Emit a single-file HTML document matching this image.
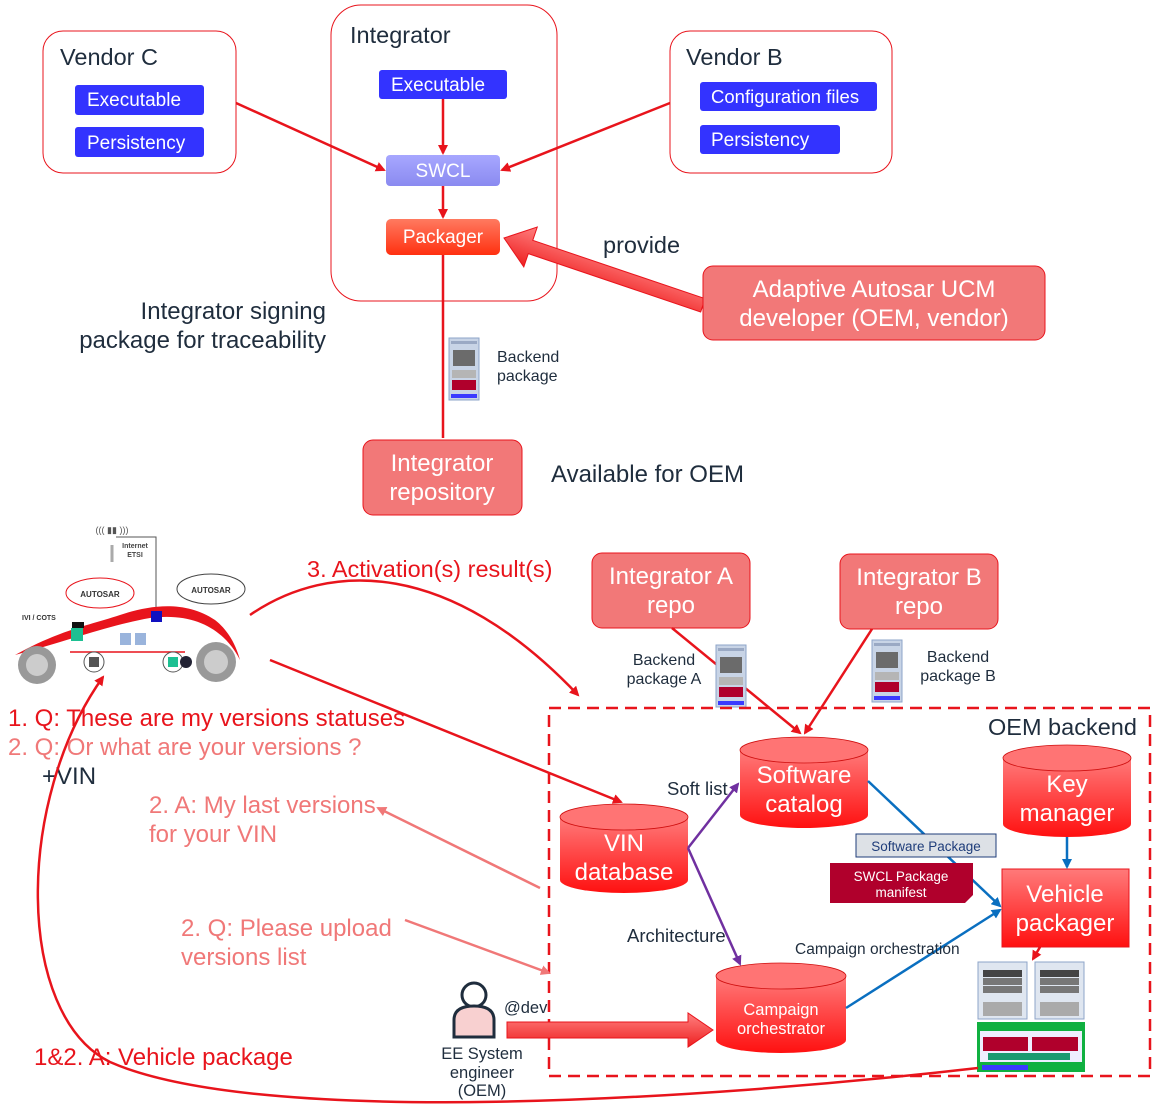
<!DOCTYPE html>
<html><head><meta charset="utf-8"><style>
html,body{margin:0;padding:0;background:#fff}
svg{display:block;font-family:"Liberation Sans",Arial,sans-serif}
</style></head><body>
<svg width="1159" height="1118" viewBox="0 0 1159 1118" xmlns="http://www.w3.org/2000/svg">
<defs>
<marker id="ar" markerWidth="10" markerHeight="10" refX="8" refY="5" orient="auto" markerUnits="userSpaceOnUse"><path d="M0,0 L10,5 L0,10 z" fill="#e8141c"/></marker>
<marker id="ap" markerWidth="10" markerHeight="10" refX="8" refY="5" orient="auto" markerUnits="userSpaceOnUse"><path d="M0,0 L10,5 L0,10 z" fill="#f07878"/></marker>
<marker id="au" markerWidth="10" markerHeight="10" refX="8" refY="5" orient="auto" markerUnits="userSpaceOnUse"><path d="M0,0 L10,5 L0,10 z" fill="#7030a0"/></marker>
<marker id="ab" markerWidth="10" markerHeight="10" refX="8" refY="5" orient="auto" markerUnits="userSpaceOnUse"><path d="M0,0 L10,5 L0,10 z" fill="#0a6fc0"/></marker>
<linearGradient id="gr" x1="0" y1="0" x2="0" y2="1"><stop offset="0" stop-color="#ff7a7a"/><stop offset="1" stop-color="#ff1010"/></linearGradient>
<linearGradient id="go" x1="0" y1="0" x2="0" y2="1"><stop offset="0" stop-color="#ff7a60"/><stop offset="1" stop-color="#ff3010"/></linearGradient>
<linearGradient id="gs" x1="0" y1="0" x2="0" y2="1"><stop offset="0" stop-color="#a7a7ff"/><stop offset="1" stop-color="#8a8af0"/></linearGradient>
<linearGradient id="gf" x1="0" y1="0" x2="0" y2="1"><stop offset="0" stop-color="#ff8080"/><stop offset="1" stop-color="#ee2020"/></linearGradient>
<g id="pkg">
<rect x="0" y="0" width="30" height="62" fill="#c8d4e6" stroke="#8ea4c8"/>
<rect x="2" y="3" width="26" height="3" fill="#9aa9c4"/>
<rect x="4" y="12" width="22" height="16" fill="#6b6b6b"/>
<rect x="3" y="32" width="24" height="8" fill="#b5b5b5"/>
<rect x="3" y="42" width="24" height="10" fill="#b0002c"/>
<rect x="2" y="56" width="26" height="4" fill="#3a3aff"/>
</g>
</defs>

<!-- Vendor C -->
<rect x="43" y="31" width="193" height="142" rx="20" fill="#fff" stroke="#e8141c"/>
<text x="60" y="65" font-size="23.5" fill="#1f2d3d">Vendor C</text>
<rect x="75" y="85" width="129" height="30" rx="3" fill="#3333ff"/>
<text x="87" y="106" font-size="19" fill="#fff">Executable</text>
<rect x="75" y="127" width="129" height="30" rx="3" fill="#3333ff"/>
<text x="87" y="149" font-size="19" fill="#fff">Persistency</text>

<!-- Integrator -->
<rect x="331" y="5" width="226" height="296" rx="30" fill="#fff" stroke="#e8141c"/>
<text x="350" y="43" font-size="23.5" fill="#1f2d3d">Integrator</text>
<rect x="379" y="70" width="128" height="29" rx="3" fill="#3333ff"/>
<text x="391" y="91" font-size="19" fill="#fff">Executable</text>
<rect x="386" y="155" width="114" height="31" rx="4" fill="url(#gs)"/>
<text x="443" y="177" font-size="19" fill="#fff" text-anchor="middle">SWCL</text>
<rect x="386" y="219" width="114" height="36" rx="5" fill="url(#go)"/>
<text x="443" y="243" font-size="19" fill="#fff" text-anchor="middle">Packager</text>
<line x1="443" y1="99" x2="443" y2="153" stroke="#e8141c" stroke-width="2.5" marker-end="url(#ar)"/>
<line x1="443" y1="186" x2="443" y2="217" stroke="#e8141c" stroke-width="2.5" marker-end="url(#ar)"/>
<line x1="443" y1="255" x2="443" y2="438" stroke="#e8141c" stroke-width="2.5"/>

<!-- Vendor B -->
<rect x="670" y="31" width="222" height="142" rx="20" fill="#fff" stroke="#e8141c"/>
<text x="686" y="65" font-size="23.5" fill="#1f2d3d">Vendor B</text>
<rect x="700" y="82" width="177" height="29" rx="3" fill="#3333ff"/>
<text x="711" y="103" font-size="18.5" fill="#fff">Configuration files</text>
<rect x="700" y="125" width="140" height="29" rx="3" fill="#3333ff"/>
<text x="711" y="146" font-size="19" fill="#fff">Persistency</text>

<line x1="236" y1="103" x2="384" y2="170" stroke="#e8141c" stroke-width="2.5" marker-end="url(#ar)"/>
<line x1="670" y1="103" x2="502" y2="170" stroke="#e8141c" stroke-width="2.5" marker-end="url(#ar)"/>

<!-- provide fat arrow -->
<g transform="translate(504,238) rotate(18.7)">
<polygon points="0,0 28,-21 28,-7 210,-7 210,7 28,7 28,21" fill="url(#gf)" stroke="#e8141c" stroke-width="1"/>
</g>
<text x="603" y="253" font-size="23.5" fill="#1f2d3d">provide</text>
<rect x="703" y="266" width="342" height="74" rx="10" fill="#f27878" stroke="#e8141c"/>
<text x="874" y="297" font-size="24" fill="#fff" text-anchor="middle">Adaptive Autosar UCM</text>
<text x="874" y="326" font-size="24" fill="#fff" text-anchor="middle">developer (OEM, vendor)</text>

<text x="326" y="319" font-size="24" fill="#1f2d3d" text-anchor="end">Integrator signing</text>
<text x="326" y="348" font-size="24" fill="#1f2d3d" text-anchor="end">package for traceability</text>

<use href="#pkg" x="449" y="338"/>
<text x="497" y="362" font-size="16" fill="#1f2d3d">Backend</text>
<text x="497" y="381" font-size="16" fill="#1f2d3d">package</text>

<rect x="363" y="440" width="159" height="75" rx="10" fill="#f27878" stroke="#e8141c"/>
<text x="442" y="471" font-size="24" fill="#fff" text-anchor="middle">Integrator</text>
<text x="442" y="500" font-size="24" fill="#fff" text-anchor="middle">repository</text>
<text x="551" y="482" font-size="24" fill="#1f2d3d">Available for OEM</text>

<!-- Car -->
<g>
<line x1="112" y1="545" x2="112" y2="562" stroke="#aaa" stroke-width="3"/>
<text x="112" y="533" font-size="9" fill="#555" text-anchor="middle">((( ▮▮ )))</text>
<polyline points="116,537 156,537 156,610" fill="none" stroke="#555" stroke-width="1"/>
<text x="135" y="548" font-size="7" font-weight="bold" fill="#444" text-anchor="middle">Internet</text>
<text x="135" y="557" font-size="7" font-weight="bold" fill="#444" text-anchor="middle">ETSI</text>
<ellipse cx="100" cy="593" rx="34" ry="15" fill="#fff" stroke="#e8141c"/>
<text x="100" y="597" font-size="8" font-weight="bold" fill="#333" text-anchor="middle">AUTOSAR</text>
<ellipse cx="211" cy="589" rx="34" ry="15" fill="#fff" stroke="#444"/>
<text x="211" y="593" font-size="8" font-weight="bold" fill="#333" text-anchor="middle">AUTOSAR</text>
<path d="M15,655 C60,630 90,625 120,615 C150,605 185,600 215,620 C228,630 236,645 240,660 C225,630 195,612 150,618 C110,625 70,640 15,655 z" fill="#e8141c"/>
<line x1="70" y1="652" x2="185" y2="652" stroke="#e8141c" stroke-width="1.5"/>
<text x="22" y="620" font-size="7" font-weight="bold" fill="#333">IVI / COTS</text>
<rect x="72" y="622" width="12" height="6" fill="#111"/>
<rect x="71" y="628" width="12" height="13" fill="#1dc092"/>
<rect x="151" y="611" width="11" height="11" fill="#1010c0"/>
<rect x="120" y="633" width="11" height="12" fill="#9ab4dc"/>
<rect x="135" y="633" width="11" height="12" fill="#9ab4dc"/>
<circle cx="94" cy="662" r="10" fill="#fff" stroke="#555"/><rect x="89" y="657" width="10" height="10" fill="#555"/>
<circle cx="173" cy="662" r="10" fill="#fff" stroke="#555"/><rect x="168" y="657" width="10" height="10" fill="#1dc092"/>
<circle cx="186" cy="662" r="6" fill="#223"/>
<circle cx="37" cy="665" r="19" fill="#999"/><circle cx="37" cy="665" r="11" fill="#ccc"/>
<circle cx="216" cy="662" r="20" fill="#999"/><circle cx="216" cy="662" r="12" fill="#ccc"/>
</g>

<text x="307" y="577" font-size="23.5" fill="#e8141c">3. Activation(s) result(s)</text>
<path d="M250,615 C330,560 450,560 578,695" fill="none" stroke="#e8141c" stroke-width="2.5" marker-end="url(#ar)"/>

<!-- integrator repos -->
<rect x="592" y="553" width="158" height="75" rx="10" fill="#f27878" stroke="#e8141c"/>
<text x="671" y="584" font-size="24" fill="#fff" text-anchor="middle">Integrator A</text>
<text x="671" y="613" font-size="24" fill="#fff" text-anchor="middle">repo</text>
<rect x="840" y="554" width="158" height="75" rx="10" fill="#f27878" stroke="#e8141c"/>
<text x="919" y="585" font-size="24" fill="#fff" text-anchor="middle">Integrator B</text>
<text x="919" y="614" font-size="24" fill="#fff" text-anchor="middle">repo</text>
<line x1="672" y1="628" x2="800" y2="733" stroke="#e8141c" stroke-width="2.5" marker-end="url(#ar)"/>
<line x1="872" y1="629" x2="805" y2="733" stroke="#e8141c" stroke-width="2.5" marker-end="url(#ar)"/>
<use href="#pkg" x="716" y="645"/>
<use href="#pkg" x="872" y="640"/>
<text x="664" y="665" font-size="16" fill="#1f2d3d" text-anchor="middle">Backend</text>
<text x="664" y="684" font-size="16" fill="#1f2d3d" text-anchor="middle">package A</text>
<text x="958" y="662" font-size="16" fill="#1f2d3d" text-anchor="middle">Backend</text>
<text x="958" y="681" font-size="16" fill="#1f2d3d" text-anchor="middle">package B</text>

<!-- OEM backend -->
<rect x="549" y="708" width="601" height="368" fill="none" stroke="#e8141c" stroke-width="2.5" stroke-dasharray="12,7"/>
<text x="988" y="735" font-size="23.5" fill="#1f2d3d">OEM backend</text>

<!-- cylinders -->
<g>
<path d="M740,750 L740,815 A64,13 0 0 0 868,815 L868,750 z" fill="url(#gr)"/>
<ellipse cx="804" cy="750" rx="64" ry="13" fill="#ff7474" stroke="#d01010" stroke-width="0.8"/>
<text x="804" y="783" font-size="24" fill="#fff" text-anchor="middle">Software</text>
<text x="804" y="812" font-size="24" fill="#fff" text-anchor="middle">catalog</text>
</g>
<g>
<path d="M1003,758 L1003,824 A64,13 0 0 0 1131,824 L1131,758 z" fill="url(#gr)"/>
<ellipse cx="1067" cy="758" rx="64" ry="13" fill="#ff7474" stroke="#d01010" stroke-width="0.8"/>
<text x="1067" y="792" font-size="24" fill="#fff" text-anchor="middle">Key</text>
<text x="1067" y="821" font-size="24" fill="#fff" text-anchor="middle">manager</text>
</g>
<g>
<path d="M560,817 L560,880 A64,13 0 0 0 688,880 L688,817 z" fill="url(#gr)"/>
<ellipse cx="624" cy="817" rx="64" ry="13" fill="#ff7474" stroke="#d01010" stroke-width="0.8"/>
<text x="624" y="851" font-size="24" fill="#fff" text-anchor="middle">VIN</text>
<text x="624" y="880" font-size="24" fill="#fff" text-anchor="middle">database</text>
</g>
<g>
<path d="M716,976 L716,1040 A65,13 0 0 0 846,1040 L846,976 z" fill="url(#gr)"/>
<ellipse cx="781" cy="976" rx="65" ry="13" fill="#ff7474" stroke="#d01010" stroke-width="0.8"/>
<text x="781" y="1015" font-size="16.5" fill="#fff" text-anchor="middle">Campaign</text>
<text x="781" y="1034" font-size="16.5" fill="#fff" text-anchor="middle">orchestrator</text>
</g>

<rect x="1002" y="869" width="127" height="78" fill="url(#gr)" stroke="#e8141c"/>
<text x="1065" y="902" font-size="24" fill="#fff" text-anchor="middle">Vehicle</text>
<text x="1065" y="931" font-size="24" fill="#fff" text-anchor="middle">packager</text>

<!-- connectors in backend -->
<line x1="688" y1="848" x2="738" y2="784" stroke="#7030a0" stroke-width="2.5" marker-end="url(#au)"/>
<line x1="688" y1="848" x2="740" y2="964" stroke="#7030a0" stroke-width="2.5" marker-end="url(#au)"/>
<text x="667" y="795" font-size="18.5" fill="#1f2d3d">Soft list</text>
<text x="627" y="942" font-size="18.5" fill="#1f2d3d">Architecture</text>
<line x1="868" y1="781" x2="1000" y2="906" stroke="#0a6fc0" stroke-width="2.5" marker-end="url(#ab)"/>
<line x1="846" y1="1008" x2="1000" y2="910" stroke="#0a6fc0" stroke-width="2.5" marker-end="url(#ab)"/>
<line x1="1067" y1="837" x2="1067" y2="867" stroke="#0a6fc0" stroke-width="2.5" marker-end="url(#ab)"/>
<text x="795" y="954" font-size="15.5" fill="#1f2d3d">Campaign orchestration</text>
<rect x="856" y="834" width="140" height="23" fill="#dde1e6" stroke="#1f3d7a"/>
<text x="926" y="851" font-size="13.5" fill="#1f3d7a" text-anchor="middle">Software Package</text>
<polygon points="830,863 973,863 973,895 965,903 830,903" fill="#b0002c"/>
<text x="901" y="881" font-size="13.5" fill="#fff" text-anchor="middle">SWCL Package</text>
<text x="901" y="897" font-size="13.5" fill="#fff" text-anchor="middle">manifest</text>

<!-- vehicle package icons -->
<line x1="1040" y1="947" x2="1033" y2="959" stroke="#e8141c" stroke-width="2.5" marker-end="url(#ar)"/>
<g>
<rect x="978" y="962" width="49" height="57" fill="#dfe6f0" stroke="#8ea4c8"/>
<rect x="983" y="970" width="39" height="7" fill="#444"/><rect x="983" y="978" width="39" height="7" fill="#777"/><rect x="983" y="986" width="39" height="7" fill="#777"/>
<rect x="983" y="1002" width="39" height="14" fill="#aaa"/>
<rect x="1035" y="962" width="49" height="57" fill="#dfe6f0" stroke="#8ea4c8"/>
<rect x="1040" y="970" width="39" height="7" fill="#444"/><rect x="1040" y="978" width="39" height="7" fill="#777"/><rect x="1040" y="986" width="39" height="7" fill="#777"/>
<rect x="1040" y="1002" width="39" height="14" fill="#aaa"/>
<rect x="977" y="1022" width="108" height="50" fill="#10b040"/>
<rect x="980" y="1031" width="102" height="31" fill="#eef"/>
<rect x="983" y="1037" width="45" height="14" fill="#b0002c"/><rect x="1032" y="1037" width="46" height="14" fill="#b0002c"/>
<rect x="988" y="1053" width="82" height="7" fill="#1a9a70"/>
<rect x="982" y="1065" width="46" height="5" fill="#3a3aff"/>
</g>

<!-- left texts -->
<text x="8" y="726" font-size="24" fill="#e8141c">1. Q: These are my versions statuses</text>
<text x="8" y="755" font-size="24" fill="#f07878">2. Q: Or what are your versions ?</text>
<text x="42" y="784" font-size="24" fill="#1f2d3d">+VIN</text>
<text x="149" y="813" font-size="24" fill="#f07878">2. A: My last versions</text>
<text x="149" y="842" font-size="24" fill="#f07878">for your VIN</text>
<text x="181" y="936" font-size="24" fill="#f07878">2. Q: Please upload</text>
<text x="181" y="965" font-size="24" fill="#f07878">versions list</text>
<text x="34" y="1065" font-size="24" fill="#e8141c">1&amp;2. A: Vehicle package</text>

<line x1="270" y1="660" x2="621" y2="802" stroke="#e8141c" stroke-width="2.5" marker-end="url(#ar)"/>
<line x1="540" y1="888" x2="378" y2="808" stroke="#f07878" stroke-width="2.5" marker-end="url(#ap)"/>
<line x1="405" y1="920" x2="549" y2="973" stroke="#f07878" stroke-width="2.5" marker-end="url(#ap)"/>

<path d="M978,1068 C700,1100 260,1128 110,1062 C15,1015 15,800 103,677" fill="none" stroke="#e8141c" stroke-width="2.5" marker-end="url(#ar)"/>

<!-- EE engineer -->
<circle cx="474" cy="995" r="12" fill="#fff" stroke="#1f2d3d" stroke-width="3"/>
<path d="M454,1037 L454,1020 Q454,1006 474,1006 Q494,1006 494,1020 L494,1037 z" fill="#f8d0d0" stroke="#1f2d3d" stroke-width="3"/>
<text x="504" y="1013" font-size="16.5" fill="#1f2d3d">@dev</text>
<text x="482" y="1059" font-size="16.5" fill="#1f2d3d" text-anchor="middle">EE System</text>
<text x="482" y="1078" font-size="16.5" fill="#1f2d3d" text-anchor="middle">engineer</text>
<text x="482" y="1096" font-size="16.5" fill="#1f2d3d" text-anchor="middle">(OEM)</text>
<polygon points="507,1022 688,1022 688,1013 713,1030 688,1047 688,1038 507,1038" fill="url(#gf)" stroke="#e8141c"/>
</svg>
</body></html>
